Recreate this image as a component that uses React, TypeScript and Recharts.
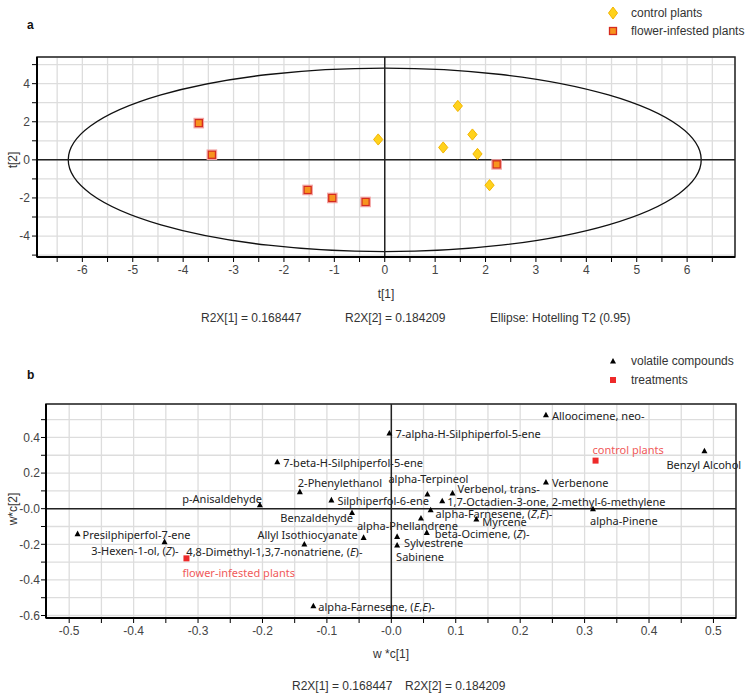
import React from 'react';
import {
  ScatterChart,
  Scatter,
  XAxis,
  YAxis,
  CartesianGrid,
  ReferenceLine,
  ReferenceArea,
} from 'recharts';

// ---------- Score plot (t[1] vs t[2]) ----------
const controlT1 = [-0.13, 1.45, 1.74, 1.16, 1.84, 2.08];
const controlT2 = [1.07, 2.83, 1.33, 0.65, 0.31, -1.33];
const infestedT1 = [-3.69, -3.43, -1.53, -1.04, -0.38, 2.22];
const infestedT2 = [1.93, 0.27, -1.58, -2.0, -2.21, -0.24];

// Hotelling T2 (0.95) ellipse semi-axes
const ellipseT1 = 6.28;
const ellipseT2 = 4.82;

const scoreXTicks = [-6.5, -6, -5.5, -5, -4.5, -4, -3.5, -3, -2.5, -2, -1.5, -1, -0.5, 0, 0.5, 1, 1.5, 2, 2.5, 3, 3.5, 4, 4.5, 5, 5.5, 6, 6.5];
const scoreYTicks = [-5, -4, -3, -2, -1, 0, 1, 2, 3, 4, 5];

// ---------- Loading plot (w*c[1] vs w*c[2]) ----------
const compoundNames = [
  'Alloocimene, neo-',
  '7-alpha-H-Silphiperfol-5-ene',
  '7-beta-H-Silphiperfol-5-ene',
  'Benzyl Alcohol',
  '2-Phenylethanol',
  'p-Anisaldehyde',
  'Silphiperfol-6-ene',
  'alpha-Terpineol',
  'Verbenol, trans-',
  'Verbenone',
  '1,7-Octadien-3-one, 2-methyl-6-methylene',
  'Benzaldehyde',
  'alpha-Farnesene, (Z,E)-',
  'alpha-Pinene',
  'alpha-Phellandrene',
  'Myrcene',
  'Presilphiperfol-7-ene',
  'beta-Ocimene, (Z)-',
  'Allyl Isothiocyanate',
  'Sylvestrene',
  'Sabinene',
  '3-Hexen-1-ol, (Z)-',
  '4,8-Dimethyl-1,3,7-nonatriene, (E)-',
  'alpha-Farnesene, (E,E)-',
];
const compoundWC1 = [0.24, -0.003, -0.177, 0.486, -0.142, -0.204, -0.093, 0.056, 0.095, 0.24, 0.079, -0.061, 0.061, 0.313, 0.046, 0.132, -0.487, 0.055, -0.043, 0.009, 0.009, -0.352, -0.135, -0.121];
const compoundWC2 = [0.528, 0.425, 0.264, 0.326, 0.096, 0.022, 0.05, 0.083, 0.088, 0.15, 0.045, -0.021, -0.006, 0.0, -0.052, -0.058, -0.14, -0.133, -0.161, -0.155, -0.204, -0.185, -0.198, -0.545];

const treatmentNames = ['control plants', 'flower-infested plants'];
const treatmentWC1 = [0.317, -0.318];
const treatmentWC2 = [0.27, -0.279];

const loadingXTicks = [-0.5, -0.45, -0.4, -0.35, -0.3, -0.25, -0.2, -0.15, -0.1, -0.05, 0, 0.05, 0.1, 0.15, 0.2, 0.25, 0.3, 0.35, 0.4, 0.45, 0.5];
const loadingYTicks = [-0.6, -0.5, -0.4, -0.3, -0.2, -0.1, 0, 0.1, 0.2, 0.3, 0.4, 0.5];

// label placement around each marker: [dx, dy, anchor]
const labelPlacement: Record<string, [number, number, 'start' | 'end']> = {
  'Alloocimene, neo-': [6, 0, 'start'],
  '7-alpha-H-Silphiperfol-5-ene': [6, 0, 'start'],
  '7-beta-H-Silphiperfol-5-ene': [6, 0, 'start'],
  'Benzyl Alcohol': [-38, 13, 'start'],
  '2-Phenylethanol': [-2, -10, 'start'],
  'p-Anisaldehyde': [2, -7, 'end'],
  'Silphiperfol-6-ene': [6, 0, 'start'],
  'alpha-Terpineol': [-39, -16, 'start'],
  'Verbenol, trans-': [5, -5, 'start'],
  'Verbenone': [6, 0, 'start'],
  '1,7-Octadien-3-one, 2-methyl-6-methylene': [5, 0, 'start'],
  'Benzaldehyde': [1, 5, 'end'],
  'alpha-Farnesene, (Z,E)-': [5, 3, 'start'],
  'alpha-Pinene': [-3, 11, 'start'],
  'alpha-Phellandrene': [-64, 7, 'start'],
  'Myrcene': [6, 2, 'start'],
  'Presilphiperfol-7-ene': [5, 0, 'start'],
  'beta-Ocimene, (Z)-': [8, 1, 'start'],
  'Allyl Isothiocyanate': [-6, -3, 'end'],
  'Sylvestrene': [7, 6, 'start'],
  'Sabinene': [-1, 11, 'start'],
  '3-Hexen-1-ol, (Z)-': [14, 8, 'end'],
  '4,8-Dimethyl-1,3,7-nonatriene, (E)-': [-118, 7, 'start'],
  'alpha-Farnesene, (E,E)-': [5, 0, 'start'],
  'control plants': [-3, -12, 'start'],
  'flower-infested plants': [-4, 14, 'start'],
};

const controlData = controlT1.map((x, i) => ({ x, y: controlT2[i] }));
const infestedData = infestedT1.map((x, i) => ({ x, y: infestedT2[i] }));
const compoundData = compoundNames.map((name, i) => ({ name, x: compoundWC1[i], y: compoundWC2[i] }));
const treatmentData = treatmentNames.map((name, i) => ({ name, x: treatmentWC1[i], y: treatmentWC2[i] }));

const tickFont = '"Liberation Sans Narrow", "Liberation Sans", Arial, sans-serif';
const textFont = '"Liberation Sans", Arial, sans-serif';
const labelFont = '"Noto Sans", "Open Sans", sans-serif';
const gridColor = '#dddddd';

// Renders a name, with the stereo descriptors E / Z in italics
function StereoText({ text }: { text: string }) {
  const parts = text.split(/(\([EZ](?:,[EZ])?\))/);
  return (
    <>
      {parts.map((p, i) => {
        if (/^\([EZ](?:,[EZ])?\)$/.test(p)) {
          const chars = p.split('');
          return chars.map((c, j) => (
            <tspan key={`${i}-${j}`} fontStyle={c === 'E' || c === 'Z' ? 'italic' : 'normal'}>
              {c}
            </tspan>
          ));
        }
        return <tspan key={i}>{p}</tspan>;
      })}
    </>
  );
}

function DiamondMarker(props: any) {
  const { cx, cy } = props;
  if (cx == null || cy == null) return null;
  const w = 4.6;
  const h = 5.6;
  return (
    <polygon
      points={`${cx},${cy - h} ${cx + w},${cy} ${cx},${cy + h} ${cx - w},${cy}`}
      fill="#FFD21C"
      stroke="#F2B400"
      strokeWidth={1}
    />
  );
}

function SquareMarker(props: any) {
  const { cx, cy } = props;
  if (cx == null || cy == null) return null;
  return (
    <g>
      <rect x={cx - 4.8} y={cy - 4.8} width={9.6} height={9.6} fill="none" stroke="#F3A3A3" strokeWidth={1} />
      <rect x={cx - 3.6} y={cy - 3.6} width={7.2} height={7.2} fill="#F7941D" stroke="#D52B1E" strokeWidth={1.3} />
    </g>
  );
}

function LabelText({ cx, cy, name, fill }: { cx: number; cy: number; name: string; fill: string }) {
  const [dx, dy, anchor] = labelPlacement[name] || [6, 0, 'start'];
  return (
    <text
      x={cx + dx}
      y={cy + dy}
      textAnchor={anchor}
      dominantBaseline="central"
      fontFamily={labelFont}
      fontSize={11}
      fill={fill}
    >
      <StereoText text={name} />
    </text>
  );
}

function CompoundMarker(props: any) {
  const { cx, cy, payload } = props;
  if (cx == null || cy == null) return null;
  return (
    <g>
      <polygon points={`${cx},${cy - 3} ${cx + 3},${cy + 2.6} ${cx - 3},${cy + 2.6}`} fill="#000" />
      <LabelText cx={cx} cy={cy} name={payload.name} fill="#222" />
    </g>
  );
}

function TreatmentMarker(props: any) {
  const { cx, cy, payload } = props;
  if (cx == null || cy == null) return null;
  return (
    <g>
      <rect x={cx - 3} y={cy - 3} width={6} height={6} fill="#EE2A2A" />
      <LabelText cx={cx} cy={cy} name={payload.name} fill="#F05A5A" />
    </g>
  );
}

function EllipseShape(props: any) {
  const { x, y, width, height } = props;
  if (x == null || width == null) return null;
  return (
    <ellipse
      cx={x + width / 2}
      cy={y + height / 2}
      rx={Math.abs(width) / 2}
      ry={Math.abs(height) / 2}
      fill="none"
      stroke="#111"
      strokeWidth={1.3}
    />
  );
}

const intLabel = (v: number) => (Math.abs(v - Math.round(v)) < 1e-9 ? String(Math.round(v)) : '');
const evenLabel = (v: number) => (Math.round(v) % 2 === 0 ? String(v) : '');
const tenthLabel = (v: number) => {
  const k = Math.round(v * 100);
  if (k % 10 !== 0) return '';
  if (k === 0) return '-0.0';
  return (k / 100).toFixed(1);
};
const loadYLabel = (v: number) => {
  const k = Math.round(v * 10);
  if (k % 2 !== 0) return '';
  if (k === 0) return '-0.0';
  return (k / 10).toFixed(1);
};

const tickStyle = { fontSize: 12, fill: '#444', fontFamily: tickFont };

function ScorePlot() {
  return (
    <ScatterChart width={745} height={300} margin={{ top: 57, right: 10, bottom: 13, left: 0 }}>
      <CartesianGrid stroke={gridColor} strokeWidth={1.3} />
      <XAxis
        type="number"
        dataKey="x"
        domain={[-6.9, 6.95]}
        ticks={scoreXTicks}
        interval={0}
        tickFormatter={intLabel}
        height={30}
        tickSize={5}
        tickMargin={3}
        tick={tickStyle}
        axisLine={{ stroke: '#000', strokeWidth: 2 }}
        tickLine={{ stroke: '#000' }}
      />
      <YAxis
        type="number"
        dataKey="y"
        domain={[-5.1, 5.4]}
        ticks={scoreYTicks}
        interval={0}
        tickFormatter={evenLabel}
        width={37}
        tickSize={5}
        tickMargin={2}
        tick={tickStyle}
        axisLine={{ stroke: '#000', strokeWidth: 2 }}
        tickLine={{ stroke: '#000' }}
      />
      <ReferenceArea
        x1={-ellipseT1}
        x2={ellipseT1}
        y1={-ellipseT2}
        y2={ellipseT2}
        shape={EllipseShape}
        ifOverflow="visible"
      />
      <ReferenceLine x={0} stroke="#222" strokeWidth={1.5} />
      <ReferenceLine y={0} stroke="#222" strokeWidth={1.5} />
      <ReferenceArea x1={-6.9} x2={6.95} y1={-5.1} y2={5.4} fill="none" stroke="#222" strokeWidth={1.5} ifOverflow="visible" />
      <Scatter data={controlData} shape={DiamondMarker} isAnimationActive={false} />
      <Scatter data={infestedData} shape={SquareMarker} isAnimationActive={false} />
    </ScatterChart>
  );
}

function LoadingPlot() {
  return (
    <ScatterChart width={745} height={340} margin={{ top: 64, right: 9, bottom: 32, left: 0 }}>
      <CartesianGrid stroke={gridColor} strokeWidth={1.3} />
      <XAxis
        type="number"
        dataKey="x"
        domain={[-0.536, 0.535]}
        ticks={loadingXTicks}
        interval={0}
        tickFormatter={tenthLabel}
        height={30}
        tickSize={5}
        tickMargin={3}
        tick={tickStyle}
        axisLine={{ stroke: '#000', strokeWidth: 2 }}
        tickLine={{ stroke: '#000' }}
      />
      <YAxis
        type="number"
        dataKey="y"
        domain={[-0.614, 0.588]}
        ticks={loadingYTicks}
        interval={0}
        tickFormatter={loadYLabel}
        width={46}
        tickSize={5}
        tickMargin={1}
        tick={tickStyle}
        axisLine={{ stroke: '#000', strokeWidth: 2 }}
        tickLine={{ stroke: '#000' }}
      />
      <ReferenceLine x={0} stroke="#222" strokeWidth={1.5} />
      <ReferenceLine y={0} stroke="#222" strokeWidth={1.5} />
      <ReferenceArea x1={-0.536} x2={0.535} y1={-0.614} y2={0.588} fill="none" stroke="#222" strokeWidth={1.5} ifOverflow="visible" />
      <Scatter data={compoundData} shape={CompoundMarker} isAnimationActive={false} />
      <Scatter data={treatmentData} shape={TreatmentMarker} isAnimationActive={false} />
    </ScatterChart>
  );
}

function Annotations() {
  const t = { fontFamily: textFont, fontSize: 12, fill: '#333', dominantBaseline: 'central' as const };
  return (
    <svg width={745} height={695} style={{ position: 'absolute', left: 0, top: 0, pointerEvents: 'none' }}>
      {/* panel a */}
      <text x={27} y={25} {...t} fontWeight="bold" fill="#111">a</text>
      <polygon points="613,7 617.5,13 613,19 608.5,13" fill="#FFD21C" stroke="#F2B400" />
      <text x={631} y={13} {...t}>control plants</text>
      <rect x={609.5} y={27.5} width={7} height={7} fill="#F7941D" stroke="#D52B1E" strokeWidth={1.3} />
      <text x={631} y={31} {...t}>flower-infested plants</text>
      <text x={386} y={294} {...t} textAnchor="middle">t[1]</text>
      <text x={13} y={160} {...t} textAnchor="middle" transform="rotate(-90 13 160)">t[2]</text>
      <text x={201} y={318} {...t}>R2X[1] = 0.168447</text>
      <text x={345} y={318} {...t}>R2X[2] = 0.184209</text>
      <text x={490} y={318} {...t}>Ellipse: Hotelling T2 (0.95)</text>

      {/* panel b */}
      <text x={27} y={375} {...t} fontWeight="bold" fill="#111">b</text>
      <polygon points="613,358 616,363.6 610,363.6" fill="#000" />
      <text x={631} y={361} {...t}>volatile compounds</text>
      <rect x={610} y={377} width={6} height={6} fill="#EE2A2A" />
      <text x={631} y={380} {...t}>treatments</text>
      <text x={391} y={654} {...t} textAnchor="middle">w *c[1]</text>
      <text x={13} y={509} {...t} textAnchor="middle" transform="rotate(-90 13 509)">w*c[2]</text>
      <text x={292} y={686} {...t}>R2X[1] = 0.168447</text>
      <text x={405} y={686} {...t}>R2X[2] = 0.184209</text>
    </svg>
  );
}

export default function App() {
  return (
    <div style={{ position: 'absolute', left: 0, top: 0, width: 745, height: 695, background: '#fff', overflow: 'hidden' }}>
      <div style={{ position: 'absolute', left: 0, top: 0 }}>
        <ScorePlot />
      </div>
      <div style={{ position: 'absolute', left: 0, top: 340 }}>
        <LoadingPlot />
      </div>
      <Annotations />
    </div>
  );
}
